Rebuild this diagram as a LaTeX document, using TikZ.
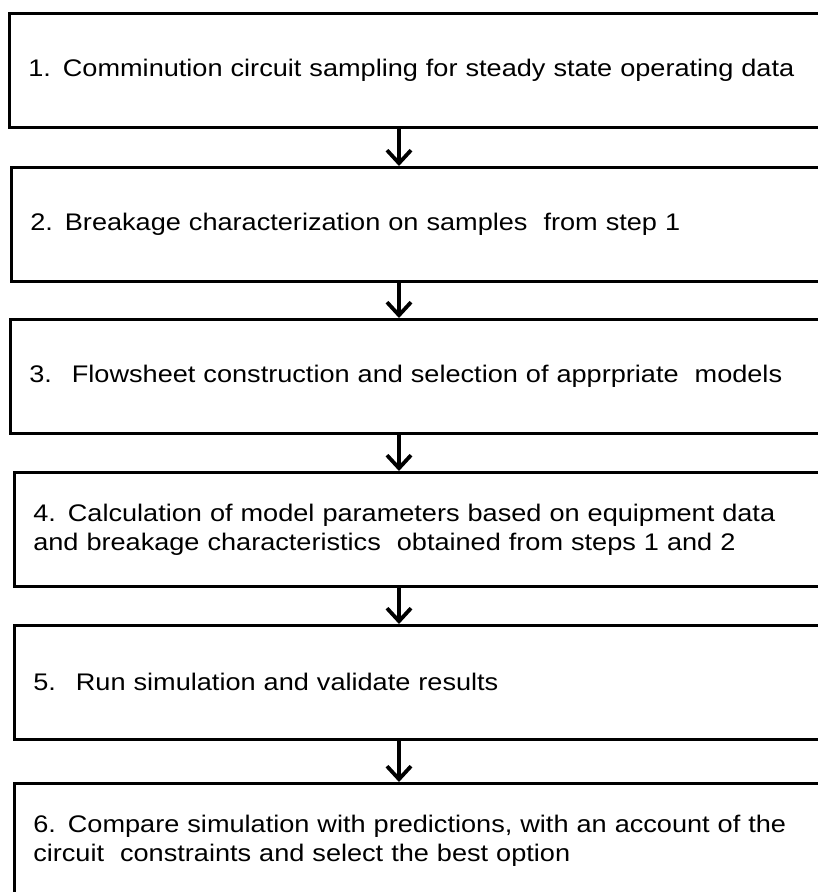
\documentclass[tikz,border=0pt]{standalone}
\usepackage{fontspec}
\setmainfont{Liberation Sans}[FakeStretch=1.13]
\usetikzlibrary{arrows.meta}

\begin{document}
\begin{tikzpicture}[x=1pt, y=-1pt]

\tikzstyle{stepbox}=[draw, line width=2.6pt, anchor=north west, minimum height=114pt, inner xsep=19pt, text width=784pt, align=left, font=\fontsize{24}{29}\selectfont]
\tikzstyle{flow}=[line width=3.8pt, -{Straight Barb[length=13pt, width=24pt, line width=3.8pt]}]

\useasboundingbox (0,0) rectangle (817,892);
\coordinate (axis) at (399,0);

\node [stepbox] (s1) at (8,12) {1. Comminution circuit sampling for steady state operating data};
\node [stepbox] (s2) at (10,166) {2. Breakage characterization on samples \ from step 1};
\node [stepbox] (s3) at (9,318) {3. \ Flowsheet construction and selection of apprpriate \ models};
\node [stepbox] (s4) at (13,471) {4. Calculation of model parameters based on equipment data\\and breakage characteristics \ obtained from steps 1 and 2};
\node [stepbox] (s5) at (13,624) {5. \ Run simulation and validate results};
\node [stepbox] (s6) at (13,782) {6. Compare simulation with predictions, with an account of the\\circuit \ constraints and select the best option};

\draw [flow] (s1.south -| axis) to (s2.north -| axis);
\draw [flow] (s2.south -| axis) to (s3.north -| axis);
\draw [flow] (s3.south -| axis) to (s4.north -| axis);
\draw [flow] (s4.south -| axis) to (s5.north -| axis);
\draw [flow] (s5.south -| axis) to (s6.north -| axis);
\end{tikzpicture}
\end{document}
